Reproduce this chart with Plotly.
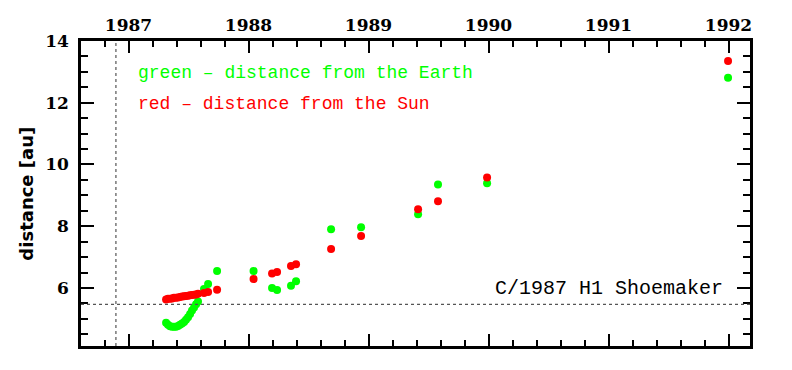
import plotly.graph_objects as go

# observation epochs (decimal years)
dates = [1987.313, 1987.329, 1987.346, 1987.363, 1987.379, 1987.396, 1987.413,
         1987.429, 1987.446, 1987.463, 1987.479, 1987.496, 1987.513, 1987.529,
         1987.546, 1987.563, 1987.579, 1987.629, 1987.663, 1987.738,
         1988.042, 1988.196, 1988.238, 1988.354, 1988.396, 1988.688,
         1988.938, 1989.413, 1989.579, 1989.988, 1991.996]

# distance from the Earth [au]
delta = [4.87, 4.81, 4.76, 4.74, 4.74, 4.74, 4.77,
         4.81, 4.85, 4.90, 4.97, 5.05, 5.16, 5.27,
         5.37, 5.47, 5.56, 5.97, 6.13, 6.55,
         6.55, 6.00, 5.93, 6.07, 6.22, 7.90,
         7.97, 8.39, 9.35, 9.39, 12.81]

# distance from the Sun [au]
rsun = [5.63, 5.65, 5.65, 5.66, 5.68, 5.68, 5.69,
        5.71, 5.72, 5.73, 5.74, 5.75, 5.76, 5.77,
        5.78, 5.79, 5.81, 5.84, 5.87, 5.94,
        6.29, 6.47, 6.52, 6.71, 6.77, 7.26,
        7.68, 8.55, 8.81, 9.58, 13.35]

perihelion_date = 1986.895
perihelion_q = 5.47

year_ticks = [1987, 1988, 1989, 1990, 1991, 1992]
dist_ticks = [6, 8, 10, 12, 14]

fig = go.Figure()
fig.add_trace(go.Scatter(x=dates, y=delta, mode="markers",
                         marker=dict(color="#00ff00", size=8, line=dict(width=0)),
                         showlegend=False))
fig.add_trace(go.Scatter(x=dates, y=rsun, mode="markers",
                         marker=dict(color="#ff0000", size=8, line=dict(width=0)),
                         showlegend=False))

fig.add_shape(type="line", xref="x", yref="paper", x0=perihelion_date, x1=perihelion_date,
              y0=0, y1=1, line=dict(color="#555555", width=1.2, dash="dot"))
fig.add_shape(type="line", xref="paper", yref="y", x0=0, x1=1,
              y0=perihelion_q, y1=perihelion_q, line=dict(color="#555555", width=1.2, dash="dot"))

tickfont = dict(family="DejaVu Serif", size=17, color="black", weight="bold")

fig.update_xaxes(range=[1986.604, 1992.179], side="top", tickmode="array",
                 tickvals=year_ticks, ticktext=[str(v) for v in year_ticks],
                 ticks="inside", ticklen=12, tickwidth=2, tickcolor="black",
                 minor=dict(dtick=0.2, tick0=1987, ticks="inside", ticklen=6,
                            tickwidth=2, tickcolor="black"),
                 showline=True, linewidth=2.5, linecolor="black", mirror="ticks",
                 showgrid=False, zeroline=False, tickfont=tickfont, automargin=False)
fig.update_yaxes(range=[4.12, 14.0], tickmode="array", tickvals=dist_ticks,
                 ticktext=[str(v) for v in dist_ticks],
                 ticks="inside", ticklen=13, tickwidth=2, tickcolor="black",
                 minor=dict(dtick=0.5, tick0=0, ticks="inside", ticklen=7,
                            tickwidth=2, tickcolor="black"),
                 showline=True, linewidth=2.5, linecolor="black", mirror="ticks",
                 showgrid=False, zeroline=False, tickfont=tickfont, automargin=False,
                 ticklabelstandoff=6)

fig.add_annotation(xref="paper", yref="paper", x=-0.082, y=0.50,
                   text="distance [au]", textangle=-90, showarrow=False,
                   xanchor="center", yanchor="middle",
                   font=dict(family="DejaVu Sans", size=18, color="black", weight="bold"))
fig.add_annotation(xref="paper", yref="paper", x=0.0822, y=0.895,
                   text="green – distance from the Earth", showarrow=False,
                   xanchor="left", yanchor="middle",
                   font=dict(family="Liberation Mono", size=18, color="#00ff00"))
fig.add_annotation(xref="paper", yref="paper", x=0.0822, y=0.793,
                   text="red – distance from the Sun", showarrow=False,
                   xanchor="left", yanchor="middle",
                   font=dict(family="Liberation Mono", size=18, color="#ff0000"))
fig.add_annotation(xref="paper", yref="paper", x=0.9626, y=0.19,
                   text="C/1987 H1 Shoemaker", showarrow=False,
                   xanchor="right", yanchor="middle",
                   font=dict(family="Liberation Mono", size=20, color="black"))

# the page body has an 8 px margin, so the figure is sized to compensate
fig.update_layout(width=784, height=362, plot_bgcolor="white", paper_bgcolor="white",
                  margin=dict(l=73, r=42, t=33, b=24), showlegend=False)

fig.write_html("out.html")
